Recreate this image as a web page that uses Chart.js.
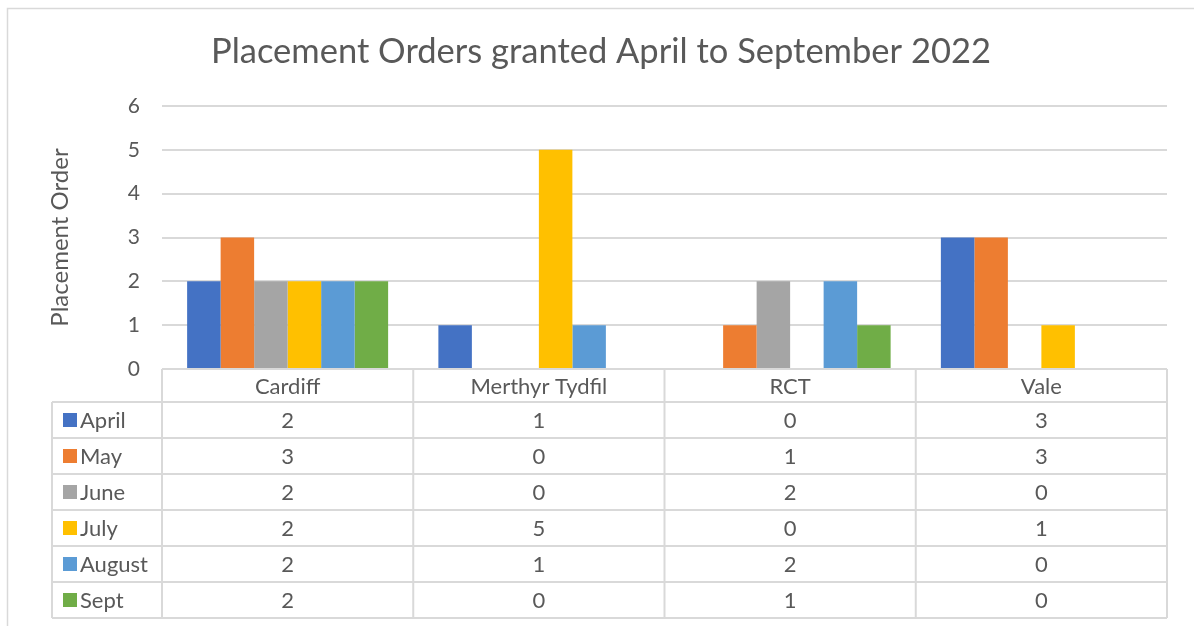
<!DOCTYPE html>
<html>
<head>
<meta charset="utf-8">
<script src="https://cdn.jsdelivr.net/npm/chart.js@4"></script>
<style>
  html, body { margin: 0; padding: 0; background: #fff; }
  #wrap { width: 1194px; height: 626px; }
</style>
</head>
<body>
<div id="wrap"><canvas id="chart" width="1194" height="626"></canvas></div>
<script>
const titleText = 'Placement Orders granted April to September 2022';
const areas = ['Cardiff', 'Merthyr Tydfil', 'RCT', 'Vale'];
const months = ['April', 'May', 'June', 'July', 'August', 'Sept'];
const april = [2, 1, 0, 3];
const may = [3, 0, 1, 3];
const june = [2, 0, 2, 0];
const july = [2, 5, 0, 1];
const august = [2, 1, 2, 0];
const sept = [2, 0, 1, 0];
const monthColours = ['#4472C4', '#ED7D31', '#A5A5A5', '#FFC000', '#5B9BD5', '#70AD47'];
const yTicks = [0, 1, 2, 3, 4, 5, 6];

const FONT = 'Lato';
const TEXT = '#595959';
const LINE = '#d9d9d9';

const seriesValues = [april, may, june, july, august, sept];

// titulo, borde exterior y tabla de datos debajo del eje
const tablePlugin = {
  id: 'dataTable',
  afterDraw(chart) {
    const ctx = chart.ctx;
    const x = chart.scales.x;
    const area = chart.chartArea;
    const catW = (area.right - area.left) / areas.length;
    const headTop = area.bottom;
    const headBottom = headTop + 33;
    const rowH = 36;
    const tableBottom = headBottom + rowH * months.length;
    const legendLeft = 52;

    ctx.save();
    // borde exterior
    ctx.strokeStyle = LINE;
    ctx.lineWidth = 1.5;
    ctx.beginPath();
    ctx.moveTo(7.5, 626);
    ctx.lineTo(7.5, 8.5);
    ctx.lineTo(1194, 8.5);
    ctx.stroke();

    // titulo
    ctx.fillStyle = TEXT;
    ctx.font = '34.5px ' + FONT;
    ctx.textAlign = 'center';
    ctx.textBaseline = 'middle';
    ctx.fillText(titleText, 601, 52);

    // lineas de la tabla
    ctx.strokeStyle = LINE;
    ctx.lineWidth = 2;
    ctx.beginPath();
    ctx.moveTo(area.left, headTop);
    ctx.lineTo(area.right, headTop);
    for (let r = 0; r <= months.length; r++) {
      const yy = headBottom + r * rowH;
      ctx.moveTo(legendLeft, yy);
      ctx.lineTo(area.right, yy);
    }
    ctx.moveTo(legendLeft, headBottom);
    ctx.lineTo(legendLeft, tableBottom);
    for (let i = 0; i <= areas.length; i++) {
      const xx = area.left + i * catW;
      ctx.moveTo(xx, headTop);
      ctx.lineTo(xx, tableBottom);
    }
    ctx.stroke();

    // textos
    ctx.font = '22px ' + FONT;
    ctx.fillStyle = TEXT;
    ctx.textAlign = 'center';
    areas.forEach((a, i) => {
      const cx = x.getPixelForValue(i);
      ctx.fillText(a, cx, (headTop + headBottom) / 2 + 1);
      seriesValues.forEach((vals, r) => {
        const cy = headBottom + r * rowH + rowH / 2 + 1;
        ctx.fillText(String(vals[i]), cx, cy);
      });
    });
    ctx.textAlign = 'left';
    months.forEach((m, r) => {
      const cy = headBottom + r * rowH + rowH / 2;
      ctx.fillStyle = monthColours[r];
      ctx.fillRect(63, cy - 7, 14, 14);
      ctx.fillStyle = TEXT;
      ctx.fillText(m, 80, cy + 1);
    });
    ctx.restore();
  }
};

new Chart(document.getElementById('chart'), {
  type: 'bar',
  data: {
    labels: areas,
    datasets: months.map((m, i) => ({
      label: m,
      data: seriesValues[i],
      backgroundColor: monthColours[i],
      borderWidth: 0,
      categoryPercentage: 0.8,
      barPercentage: 1.0
    }))
  },
  options: {
    responsive: false,
    animation: false,
    layout: { padding: { left: 46, right: 27, top: 106, bottom: 257 } },
    plugins: {
      legend: { display: false },
      title: { display: false },
      tooltip: { enabled: false }
    },
    scales: {
      x: { display: false },
      y: {
        min: 0,
        max: 6,
        afterFit(scale) { scale.width = 116; },
        afterBuildTicks(scale) { scale.ticks = yTicks.map(v => ({ value: v })); },
        border: { display: false },
        grid: { color: LINE, lineWidth: 2, drawTicks: false },
        ticks: { color: TEXT, font: { family: FONT, size: 21 }, padding: 22 },
        title: {
          display: true,
          text: 'Placement Order',
          color: TEXT,
          font: { family: FONT, size: 24 },
          padding: 0
        }
      }
    }
  },
  plugins: [tablePlugin]
});
</script>
</body>
</html>
